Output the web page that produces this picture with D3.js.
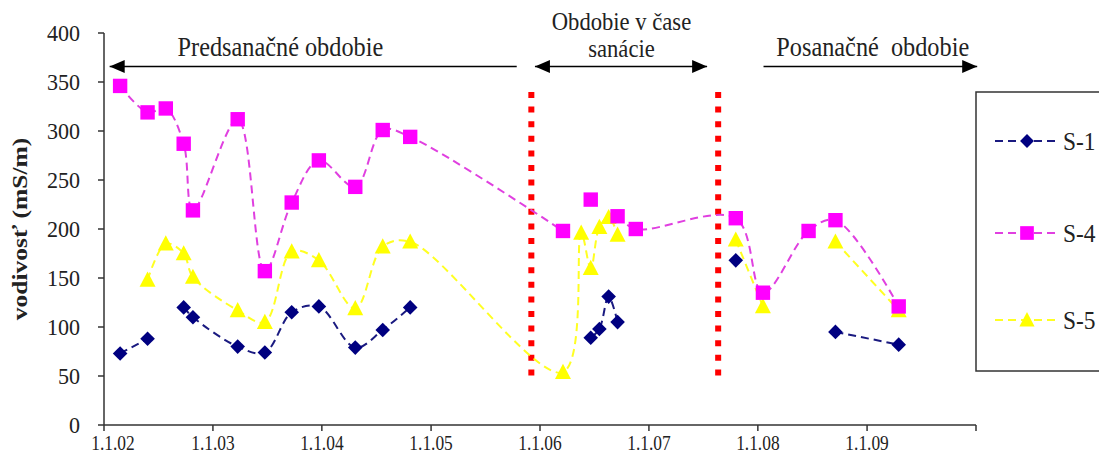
<!DOCTYPE html>
<html>
<head>
<meta charset="utf-8">
<script src="https://cdn.jsdelivr.net/npm/d3@7"></script>
<style>
  html, body { margin: 0; padding: 0; background: #fff; }
  svg { display: block; }
  text { font-family: "Liberation Serif", "Times New Roman", serif; fill: #222; white-space: pre; }
</style>
</head>
<body>
<svg id="chart" width="1099" height="465"></svg>
<script>
// Sampling dates shared by all three wells
const dates = [
  "2002-02-24", "2002-05-27", "2002-07-27", "2002-09-25", "2002-10-26",
  "2003-03-25", "2003-06-24", "2003-09-22", "2003-12-22", "2004-04-22",
  "2004-07-23", "2004-10-23", "2006-03-19", "2006-05-19", "2006-06-20",
  "2006-07-19", "2006-08-19", "2006-09-18", "2006-11-18", "2007-10-19",
  "2008-01-18", "2008-06-19", "2008-09-17", "2009-04-17"
];

// Conductivity (mS/m); null = no measurement on that date
const s1 = [73, 88, null, 120, 110, 80, 74, 115, 121, 79, 97, 120,
            null, null, 89, 98, 131, 105, null, 168, null, null, 95, 82];
const s4 = [346, 319, 323, 287, 219, 312, 157, 227, 270, 243, 301, 294,
            198, null, 230, null, null, 213, 200, 211, 135, 198, 209, 121];
const s5 = [null, 148, 185, 175, 151, 117, 105, 177, 168, 119, 182, 187,
            54, 196, 160, 202, 212, 194, null, 189, 121, null, 187, 117];

const seriesNames = ["S-1", "S-4", "S-5"];

// Axis ticks
const yTicks = [0, 50, 100, 150, 200, 250, 300, 350, 400];
const xTickDates = ["2002-01-01", "2003-01-01", "2004-01-01", "2005-01-01", "2006-01-01",
                    "2007-01-01", "2008-01-01", "2009-01-01", "2010-01-01"];
const xTickLabels = ["1.1.02", "1.1.03", "1.1.04", "1.1.05", "1.1.06", "1.1.07", "1.1.08", "1.1.09", ""];

// Remediation period boundaries (red dotted lines)
const remediation = ["2005-12-03", "2007-08-21"];

// Period annotations
const periodLabels = [
  { lines: ["Predsanačné obdobie"], from: "2002-01-20", to: "2005-10-15", head: "start", at: "2003-08-15" },
  { lines: ["Obdobie v čase", "sanácie"], from: "2005-12-15", to: "2007-07-15", head: "both", at: "2006-10-01" },
  { lines: ["Posanačné  obdobie"], from: "2008-01-20", to: "2010-01-05", head: "end", at: "2009-01-20" }
];

const parse = d3.timeParse("%Y-%m-%d");
const svg = d3.select("#chart");

const plot = { left: 104, right: 976, top: 33, bottom: 425 };
const x = d3.scaleTime()
  .domain([parse("2002-01-01"), parse("2010-01-01")])
  .range([plot.left, plot.right]);
const y = d3.scaleLinear().domain([0, 400]).range([plot.bottom, plot.top]);

// narrow serif lettering
function label(g, tx, ty, str, size, anchor, sx, weight) {
  return g.append("text")
    .attr("transform", `translate(${tx},${ty}) scale(${sx},1)`)
    .attr("text-anchor", anchor || "middle")
    .attr("font-size", size)
    .attr("font-weight", weight || "normal")
    .text(str);
}

const colors = { "S-1": "#000080", "S-4": "#ff00ff", "S-5": "#ffff00" };
const lineColors = { "S-1": "#1a1a80", "S-4": "#e040e0", "S-5": "#ffff22" };

const markerPath = {
  "S-1": r => `M0,${-r}L${r},0L0,${r}L${-r},0Z`,
  "S-4": r => `M${-r},${-r}H${r}V${r}H${-r}Z`,
  "S-5": r => `M0,${-r * 1.1}L${r * 1.05},${r * 0.9}L${-r * 1.05},${r * 0.9}Z`
};
const markerSize = { "S-1": 7.3, "S-4": 7.2, "S-5": 7.6 };

// Axes
const axisColor = "#333";
const gy = svg.append("g");
gy.append("line").attr("x1", plot.left).attr("x2", plot.left)
  .attr("y1", plot.top).attr("y2", plot.bottom)
  .attr("stroke", axisColor).attr("stroke-width", 1.5);
yTicks.forEach(t => {
  gy.append("line").attr("x1", plot.left - 6).attr("x2", plot.left)
    .attr("y1", y(t)).attr("y2", y(t)).attr("stroke", axisColor).attr("stroke-width", 1.5);
  label(gy, 80, y(t) + 8, String(t), 24, "end", 0.92);
});

const gx = svg.append("g");
gx.append("line").attr("x1", plot.left).attr("x2", plot.right)
  .attr("y1", plot.bottom).attr("y2", plot.bottom)
  .attr("stroke", axisColor).attr("stroke-width", 1.5);
xTickDates.forEach((d, i) => {
  const px = x(parse(d));
  gx.append("line").attr("x1", px).attr("x2", px)
    .attr("y1", plot.bottom).attr("y2", plot.bottom + 6)
    .attr("stroke", axisColor).attr("stroke-width", 1.5);
  if (xTickLabels[i]) {
    label(gx, i === 0 ? px + 9 : px, 450, xTickLabels[i], 22, "middle", 0.79);
  }
});

// Axis title
svg.append("text")
  .attr("transform", `translate(27,229) scale(0.82,1) rotate(-90)`)
  .attr("text-anchor", "middle")
  .attr("font-size", 25.5)
  .attr("font-weight", "bold")
  .text("vodivosť (mS/m)");

// Remediation boundaries
remediation.forEach(d => {
  svg.append("line")
    .attr("x1", x(parse(d))).attr("x2", x(parse(d)))
    .attr("y1", 92).attr("y2", 378)
    .attr("stroke", "#ff0000").attr("stroke-width", 6)
    .attr("stroke-dasharray", "6,8.6");
});

// Period arrows and labels
const arrowY = 66.5;
function arrowHead(px, dir) {
  svg.append("path")
    .attr("d", `M${px},${arrowY}L${px - dir * 15},${arrowY - 6.5}L${px - dir * 15},${arrowY + 6.5}Z`)
    .attr("fill", "#000");
}
periodLabels.forEach(p => {
  const x0 = x(parse(p.from)), x1 = x(parse(p.to));
  svg.append("line").attr("x1", x0).attr("x2", x1).attr("y1", arrowY).attr("y2", arrowY)
    .attr("stroke", "#000").attr("stroke-width", 1.6);
  if (p.head === "start" || p.head === "both") arrowHead(x0, -1);
  if (p.head === "end" || p.head === "both") arrowHead(x1, 1);
  const cx = x(parse(p.at));
  if (p.lines.length === 1) {
    label(svg, cx, 56, p.lines[0], 27, "middle", 0.9);
  } else {
    label(svg, cx, 30, p.lines[0], 26, "middle", 0.87);
    label(svg, cx, 57, p.lines[1], 26, "middle", 0.87);
  }
});

// Series
const allSeries = [
  { name: "S-1", values: s1 },
  { name: "S-4", values: s4 },
  { name: "S-5", values: s5 }
];

const line = d3.line()
  .defined(d => d.v !== null)
  .x(d => x(d.date))
  .y(d => y(d.v))
  .curve(d3.curveCatmullRom.alpha(0.5));

const drawOrder = ["S-5", "S-4", "S-1"];
drawOrder.forEach(name => {
  const s = allSeries.find(a => a.name === name);
  const pts = dates.map((d, i) => ({ date: parse(d), v: s.values[i] }));
  svg.append("path")
    .datum(pts)
    .attr("d", line)
    .attr("fill", "none")
    .attr("stroke", lineColors[name])
    .attr("stroke-width", 2)
    .attr("stroke-dasharray", "8,5");
});
drawOrder.forEach(name => {
  const s = allSeries.find(a => a.name === name);
  const pts = dates.map((d, i) => ({ date: parse(d), v: s.values[i] })).filter(d => d.v !== null);
  svg.append("g").selectAll("path")
    .data(pts)
    .join("path")
    .attr("transform", d => `translate(${x(d.date)},${y(d.v)})`)
    .attr("d", markerPath[name](markerSize[name]))
    .attr("fill", colors[name]);
});

// Legend
const lg = svg.append("g");
lg.append("rect").attr("x", 976).attr("y", 92).attr("width", 140).attr("height", 279)
  .attr("fill", "#fff").attr("stroke", "#333").attr("stroke-width", 1.5);
const legendY = [141, 233, 320];
seriesNames.forEach((name, i) => {
  const ly = legendY[i];
  lg.append("line").attr("x1", 995).attr("x2", 1057).attr("y1", ly).attr("y2", ly)
    .attr("stroke", lineColors[name]).attr("stroke-width", 2).attr("stroke-dasharray", "8,5");
  lg.append("path").attr("transform", `translate(1027,${ly})`)
    .attr("d", markerPath[name](markerSize[name] * 0.95)).attr("fill", colors[name]);
  label(lg, 1063, ly + 9, name, 26, "start", 0.9);
});
</script>
</body>
</html>
